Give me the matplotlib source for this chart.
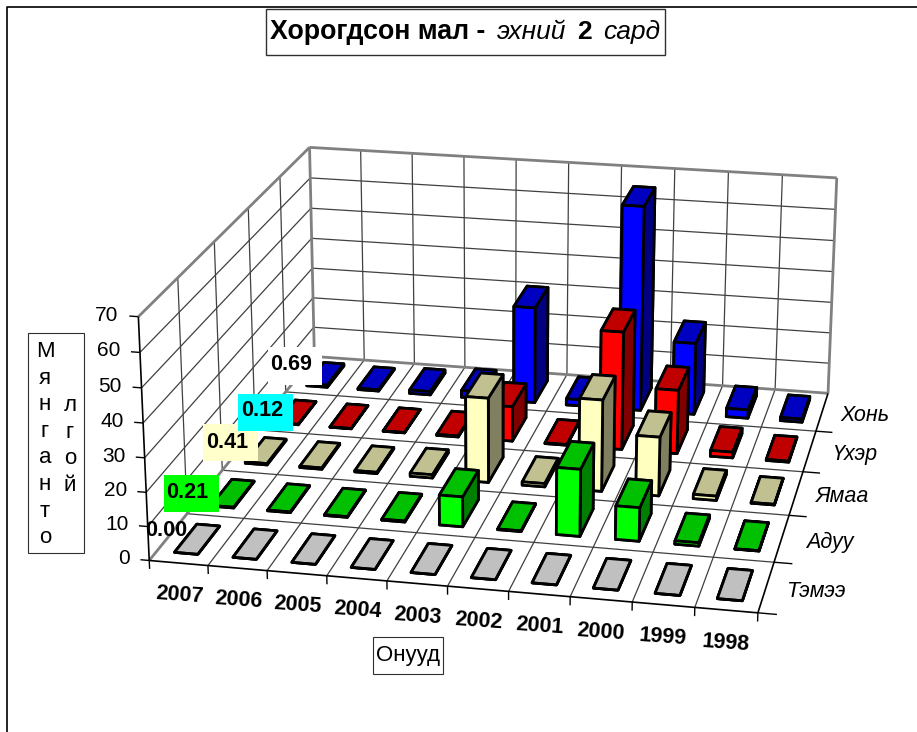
import numpy as np
import matplotlib
matplotlib.use("Agg")
import matplotlib.pyplot as plt
from matplotlib.patches import Rectangle
from mpl_toolkits.mplot3d.art3d import Line3DCollection

plt.rcParams['font.family'] = ['Liberation Sans', 'DejaVu Sans']

years = ['2007', '2006', '2005', '2004', '2003', '2002', '2001', '2000', '1999', '1998']
series = ['Тэмээ', 'Адуу', 'Ямаа', 'Үхэр', 'Хонь']
temee = [0.00, 0.00, 0.00, 0.00, 0.00, 0.00, 0.00, 0.00, 0.00, 0.00]
aduu = [0.21, 0.2, 0.2, 0.3, 9, 0.2, 20, 10, 1, 0.1]
yamaa = [0.41, 0.4, 0.4, 1, 26, 1, 28, 18, 1.3, 0.2]
ukher = [0.12, 0.1, 0.1, 0.3, 11, 0.2, 37, 20, 1.8, 0.3]
khoni = [0.69, 0.4, 1.1, 2.2, 31, 2, 65.5, 23, 2.7, 1]
values = [temee, aduu, yamaa, ukher, khoni]
z_ticks = [0, 10, 20, 30, 40, 50, 60, 70]

# front, side, top
colors = [('#C0C0C0', '#808080', '#C0C0C0'),
          ('#00FF00', '#008000', '#00C000'),
          ('#FFFFC0', '#808060', '#C0C090'),
          ('#FF0000', '#800000', '#C00000'),
          ('#0000FF', '#000080', '#0000C0')]

W, H = 917, 732

# corners of the chart box and where they sit in the picture, used to fit the camera
box = [(0, 0, 0), (10, 0, 0), (10, 5, 0), (0, 5, 0), (0, 0, 70), (0, 5, 70), (10, 5, 70)]
pix = [(149, 560), (758, 613), (828, 393), (314.5, 357), (138.5, 317), (309.5, 147), (836.7, 178)]

A = []
b = []
for (X, Y, Z), (u, v) in zip(box, pix):
    A.append([X, Y, Z, 1, 0, 0, 0, 0, -u * X, -u * Y, -u * Z])
    A.append([0, 0, 0, 0, X, Y, Z, 1, -v * X, -v * Y, -v * Z])
    b += [u, v]
p = np.linalg.lstsq(np.array(A, float), np.array(b, float), rcond=None)[0]
M = np.array([[p[0], p[1], p[2], p[3]],
              [p[4], p[5], p[6], p[7]],
              [-0.3, 1, -0.02, 0],
              [p[8], p[9], p[10], 1]])


def project(x, y, z):
    q = M @ np.array([x, y, z, 1.0])
    return q[0] / q[3], q[1] / q[3]


fig = plt.figure(figsize=(W / 100, H / 100), dpi=100)
ax = fig.add_axes([0, 0, 1, 1], projection='3d', computed_zorder=False)
ax.set_axis_off()


def lines(segs, color='#404040', lw=0.9, zorder=1):
    ax.add_collection3d(Line3DCollection(segs, colors=color, linewidths=lw, zorder=zorder,
                                         capstyle='butt'))


# walls and floor grid
grid = []
ticks = []
for i in range(1, 10):
    grid.append([(i, 0, 0), (i, 5, 0)])
    grid.append([(i, 5, 0), (i, 5, 70)])
    ticks.append([(i, 0, 0), (i, 0, -2.5)])
for j in range(1, 5):
    grid.append([(0, j, 0), (10, j, 0)])
    grid.append([(0, j, 0), (0, j, 70)])
    ticks.append([(10, j, 0), (10.3, j, 0)])
for z in z_ticks[1:-1]:
    grid.append([(0, 0, z), (0, 5, z)])
    grid.append([(0, 5, z), (10, 5, z)])
for z in z_ticks:
    ticks.append([(-0.15, 0, z), (0, 0, z)])
ticks.append([(0, 0, 0), (0, 0, -2.5)])
ticks.append([(10, 0, 0), (10, 0, -2.5)])
ticks.append([(10, 0, 0), (10.3, 0, 0)])
lines(grid)
lines(ticks, color='black', lw=1)

walls = [[(0, 0, 0), (0, 5, 0)], [(0, 5, 0), (10, 5, 0)], [(0, 5, 0), (0, 5, 70)],
         [(10, 5, 0), (10, 5, 70)], [(0, 5, 70), (10, 5, 70)], [(0, 0, 70), (0, 5, 70)]]
lines(walls, color='#808080', lw=2, zorder=2)
axes_edges = [[(0, 0, 0), (0, 0, 70)], [(0, 0, 0), (10, 0, 0)], [(10, 0, 0), (10, 5, 0)]]
lines(axes_edges, color='black', lw=1.2, zorder=3)

# bars, back row first so the front ones overlap
order = 10
for j in range(4, -1, -1):
    front, side, top = colors[j]
    for i in range(10):
        ax.bar3d(i + 0.3, j + 0.2, 0, 0.4, 0.6, values[j][i],
                 color=[top, top, front, front, side, side],
                 edgecolor='black', linewidth=2, shade=False, zorder=order)
        order += 1

# get_proj is swapped so the 3D axes lands on the fitted camera, in picture pixels
ax.get_proj = lambda: M
ax.apply_aspect = lambda position=None: None
ax.viewLim.intervalx = (0, W)
ax.viewLim.intervaly = (H, 0)

# flat layer for boxes and texts, same pixel coordinates
ov = fig.add_axes([0, 0, 1, 1], zorder=5)
ov.set_xlim(0, W)
ov.set_ylim(H, 0)
ov.axis('off')
ov.patch.set_alpha(0)

ov.plot([7, 7, W], [H, 7, 7], color='black', lw=1.2, clip_on=False)

ov.add_patch(Rectangle((266, 9), 399, 46, fc='white', ec='#303030', lw=1))
ov.text(270, 32, 'Хорогдсон мал -', fontsize=19.3, fontweight='bold', va='center')
ov.text(497, 32, 'эхний', fontsize=19, fontstyle='italic', va='center')
ov.text(577, 32, '2', fontsize=19, fontweight='bold', va='center')
ov.text(603, 32, 'сард', fontsize=19, fontstyle='italic', va='center')

for i, y in enumerate(years):
    u, v = project(i + 0.5, 0, -9.5)
    ov.text(u, v, y, fontsize=15.5, fontweight='bold', rotation=-4, ha='center', va='center')

for j, s in enumerate(series):
    u, v = project(10.8, j + 0.5, 0)
    ov.text(u, v, s, fontsize=15.5, fontstyle='italic', ha='center', va='center')

for z in z_ticks:
    u, v = project(-0.33, 0, z)
    ov.text(u, v, str(z), fontsize=15, ha='right', va='center')

ov.add_patch(Rectangle((373, 637), 70, 37, fc='white', ec='#303030', lw=0.8))
ov.text(408, 655, 'Онууд', fontsize=16, ha='center', va='center')

ov.add_patch(Rectangle((28, 333), 56, 220, fc='white', ec='#303030', lw=0.8))
ov.text(45, 341, 'М\nя\nн\nг\nа\nн\nт\nо', fontsize=16, ha='center', va='top', linespacing=1.35)
ov.text(70, 395, 'л\nг\nо\nй', fontsize=16, ha='center', va='top', linespacing=1.35)

# labels of the first year
label_boxes = [(None, 166, 530), ('#00FF00', 187, 492), ('#FFFFCC', 227, 442),
               ('#00FFFF', 262, 411), ('white', 291, 364)]
box_sizes = [None, (164, 475, 55, 37), (203, 424, 55, 37), (238, 394, 55, 37), (268, 347, 54, 38)]
for j in range(5):
    fc, u, v = label_boxes[j]
    if fc:
        x0, y0, w, h = box_sizes[j]
        ov.add_patch(Rectangle((x0, y0), w, h, fc=fc, ec='none'))
    ov.text(u, v, '%.2f' % values[j][0], fontsize=15.5, fontweight='bold', ha='center', va='center')

fig.savefig('out.png', dpi=100)
